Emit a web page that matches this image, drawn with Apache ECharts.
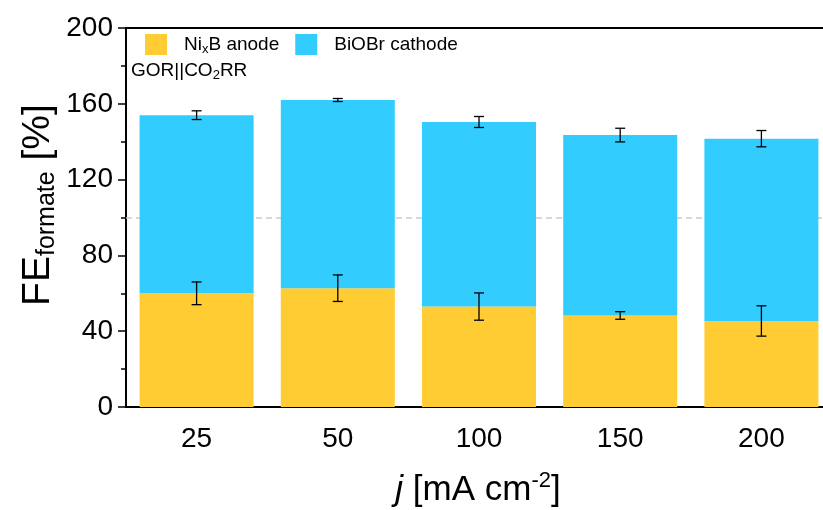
<!DOCTYPE html>
<html>
<head>
<meta charset="utf-8">
<script src="https://cdn.jsdelivr.net/npm/echarts@6/dist/echarts.min.js"></script>
<style>html,body{margin:0;padding:0;background:#fff;}#c{width:823px;height:510px;}</style>
</head>
<body>
<div id="c"></div>
<script>
var categories = ['25', '50', '100', '150', '200'];
var anode = [60.0, 62.7, 53.0, 48.3, 45.4];
var cathode = [94.0, 99.3, 97.4, 95.2, 96.2];
var anodeErr = [6.0, 7.0, 7.2, 2.0, 8.0];
var totalErr = [2.3, 0.8, 2.9, 3.6, 4.3];
var yTicks = [0, 40, 80, 120, 160, 200];

var FONT = 'Liberation Sans, Arial, sans-serif';
var chart = echarts.init(document.getElementById('c'), null, {renderer: 'canvas'});

var anodeErrData = categories.map(function (c, i) { return [i, anode[i], anodeErr[i]]; });
var totalErrData = categories.map(function (c, i) { return [i, anode[i] + cathode[i], totalErr[i]]; });

function errRender(params, api) {
  var i = api.value(0), y = api.value(1), e = api.value(2);
  var top = api.coord([i, y + e]);
  var bot = api.coord([i, y - e]);
  var cap = 5;
  var st = {stroke: '#000', lineWidth: 1.3};
  return {
    type: 'group',
    children: [
      {type: 'line', shape: {x1: top[0], y1: top[1], x2: bot[0], y2: bot[1]}, style: st},
      {type: 'line', shape: {x1: top[0] - cap, y1: top[1], x2: top[0] + cap, y2: top[1]}, style: st},
      {type: 'line', shape: {x1: bot[0] - cap, y1: bot[1], x2: bot[0] + cap, y2: bot[1]}, style: st}
    ]
  };
}

var option = {
  animation: false,
  backgroundColor: '#fff',
  grid: {left: 126, top: 28, width: 706, height: 379, outerBoundsMode: 'none', containLabel: false,
    show: true, borderColor: '#000', borderWidth: 2, backgroundColor: 'transparent'},
  legend: {
    left: 140, top: 29,
    itemWidth: 22, itemHeight: 21, itemGap: 16,
    icon: 'rect',
    data: ['NixB anode', 'BiOBr cathode'],
    formatter: function (name) {
      return name === 'NixB anode' ? '{n|Ni}{s|x}{n|B anode}' : '{n|BiOBr cathode}';
    },
    textStyle: {
      fontFamily: FONT, color: '#000', padding: [0, 0, 0, 12],
      rich: {
        n: {fontSize: 19, fontFamily: FONT, color: '#000', lineHeight: 22},
        s: {fontSize: 13, fontFamily: FONT, color: '#000', verticalAlign: 'bottom', lineHeight: 12}
      }
    }
  },
  xAxis: {
    type: 'category',
    data: categories,
    axisLine: {lineStyle: {color: '#000', width: 2}},
    axisTick: {alignWithLabel: true, length: 8, lineStyle: {color: '#000', width: 1.5}},
    axisLabel: {fontFamily: FONT, fontSize: 28, color: '#000', margin: 18}
  },
  yAxis: {
    type: 'value', min: 0, max: 200, interval: 40,
    axisLine: {show: true, lineStyle: {color: '#000', width: 2}},
    axisTick: {show: true, length: 8, lineStyle: {color: '#000', width: 1.5}},
    minorTick: {show: true, splitNumber: 2, length: 5, lineStyle: {color: '#000', width: 1.5}},
    splitLine: {show: false},
    axisLabel: {fontFamily: FONT, fontSize: 28, color: '#000', margin: 13,
      formatter: function (v) { return yTicks.indexOf(v) >= 0 ? String(v) : ''; }}
  },
  graphic: [
    {
      type: 'text', left: 131, top: 61,
      style: {
        text: '{n|GOR||CO}{s|2}{n|RR}',
        rich: {
          n: {fontSize: 19, fontFamily: FONT, fill: '#000', lineHeight: 22},
          s: {fontSize: 13, fontFamily: FONT, fill: '#000', verticalAlign: 'bottom', lineHeight: 12}
        }
      }
    },
    {
      type: 'text', x: 38, y: 205, rotation: Math.PI / 2,
      style: {
        text: '{n|FE}{s|formate}{n| [%]}',
        align: 'center', verticalAlign: 'middle',
        rich: {
          n: {fontSize: 39, fontFamily: FONT, fill: '#000', lineHeight: 44},
          s: {fontSize: 25, fontFamily: FONT, fill: '#000', verticalAlign: 'bottom', lineHeight: 24}
        }
      }
    },
    {
      type: 'text', x: 478, y: 490,
      style: {
        text: '{i|j}{n| [mA cm}{p|-2}{n|]}',
        align: 'center', verticalAlign: 'middle',
        rich: {
          i: {fontSize: 35, fontFamily: FONT, fontStyle: 'italic', fill: '#000', lineHeight: 40},
          n: {fontSize: 35, fontFamily: FONT, fill: '#000', lineHeight: 40},
          p: {fontSize: 22, fontFamily: FONT, fill: '#000', verticalAlign: 'top', lineHeight: 22}
        }
      }
    }
  ],
  series: [
    {
      type: 'line', data: [], z: 1, silent: true,
      markLine: {
        silent: true, symbol: 'none', z: 1,
        label: {show: false},
        lineStyle: {color: '#cccccc', type: [6, 4], width: 1.5},
        data: [{yAxis: 100}]
      }
    },
    {
      name: 'NixB anode', type: 'bar', stack: 'fe', data: anode, barWidth: 114, z: 2,
      itemStyle: {color: '#FFCC33'}
    },
    {
      name: 'BiOBr cathode', type: 'bar', stack: 'fe', data: cathode, barWidth: 114, z: 2,
      itemStyle: {color: '#33CCFF'}
    },
    {type: 'custom', renderItem: errRender, data: anodeErrData, z: 5, encode: {x: 0, y: 1}},
    {type: 'custom', renderItem: errRender, data: totalErrData, z: 5, encode: {x: 0, y: 1}}
  ]
};
chart.setOption(option);
</script>
</body>
</html>
